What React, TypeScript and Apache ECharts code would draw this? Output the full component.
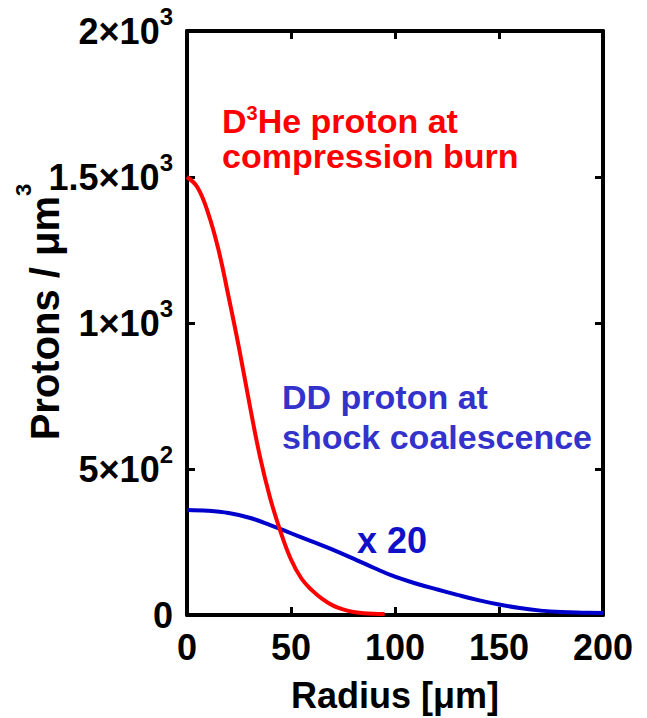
import React, { useEffect, useRef } from 'react';
import * as echarts from 'echarts';

// D3He proton at compression burn (red)
const redRadius = [0, 5, 10, 15, 20, 25, 30, 35, 40, 45, 50, 55, 60, 65, 70, 75, 80, 85, 90, 95];
const redValues = [1500, 1465, 1380, 1255, 1090, 915, 725, 545, 400, 285, 190, 125, 85, 55, 33, 19, 10, 6, 4, 3];

// DD proton at shock coalescence (x 20, blue)
const blueRadius = [0, 10, 20, 30, 40, 50, 60, 70, 80, 90, 100, 110, 120, 130, 140, 150, 160, 170, 180, 190, 200];
const blueValues = [360, 357, 349, 333, 308, 280, 252, 224, 193, 161, 131, 108, 88, 69, 51, 36, 24, 15, 10, 8, 7];

// Tick labels
const xTickValues = [0, 50, 100, 150, 200];
const yTickValues = [0, 500, 1000, 1500, 2000];
const yTickMantissa = ['0', '5×10', '1×10', '1.5×10', '2×10'];
const yTickExponent = ['', '2', '3', '3', '3'];

const FONT = '"Liberation Sans", Arial, Helvetica, sans-serif';

export default function App() {
  const ref = useRef<HTMLDivElement>(null);

  useEffect(() => {
    document.body.style.margin = '0';
    const chart = echarts.init(ref.current!, null, { renderer: 'svg' });

    const axisLine = { show: true, onZero: false, lineStyle: { color: '#000', width: 4 } };
    const axisTick = { show: true, inside: true, length: 8, lineStyle: { color: '#000', width: 3 } };

    chart.setOption({
      animation: false,
      backgroundColor: '#fff',
      grid: { left: 187, right: 44, top: 31, bottom: 103, containLabel: false, outerBoundsMode: 'none' },
      xAxis: [
        {
          type: 'value',
          position: 'bottom',
          min: 0,
          max: 200,
          interval: 50,
          axisLine,
          axisTick,
          splitLine: { show: false },
          axisLabel: {
            margin: 14,
            color: '#000',
            fontSize: 36,
            fontWeight: 'bold',
            fontFamily: FONT,
            formatter: (v: number) => (xTickValues.includes(v) ? String(v) : ''),
          },
          name: 'Radius [μm]',
          nameLocation: 'middle',
          nameGap: 62,
          nameTextStyle: { color: '#000', fontSize: 36, fontWeight: 'bold', fontFamily: FONT },
        },
        {
          type: 'value',
          position: 'top',
          min: 0,
          max: 200,
          interval: 50,
          axisLine,
          axisTick,
          splitLine: { show: false },
          axisLabel: { show: false },
        },
      ],
      yAxis: [
        {
          type: 'value',
          position: 'left',
          min: 0,
          max: 2000,
          interval: 500,
          axisLine,
          axisTick,
          splitLine: { show: false },
          axisLabel: {
            margin: 14,
            color: '#000',
            fontFamily: FONT,
            formatter: (v: number) => {
              const i = yTickValues.indexOf(v);
              if (i < 0) return '';
              const e = yTickExponent[i];
              return e ? `{m|${yTickMantissa[i]}}{e|${e}}` : `{m|${yTickMantissa[i]}}`;
            },
            rich: {
              m: { fontSize: 36, fontWeight: 'bold', fontFamily: FONT, color: '#000', lineHeight: 53 },
              e: { fontSize: 24, fontWeight: 'bold', fontFamily: FONT, color: '#000', lineHeight: 24, verticalAlign: 'top' },
            },
          },
        },
        {
          type: 'value',
          position: 'right',
          min: 0,
          max: 2000,
          interval: 500,
          axisLine,
          axisTick,
          splitLine: { show: false },
          axisLabel: { show: false },
        },
      ],
      series: [
        {
          type: 'line',
          name: 'DD proton at shock coalescence (x 20)',
          xAxisIndex: 0,
          yAxisIndex: 0,
          data: blueRadius.map((r, i) => [r, blueValues[i]]),
          smooth: 0.4,
          showSymbol: false,
          lineStyle: { color: '#0000cc', width: 4 },
          z: 3,
        },
        {
          type: 'line',
          name: 'D3He proton at compression burn',
          xAxisIndex: 0,
          yAxisIndex: 0,
          data: redRadius.map((r, i) => [r, redValues[i]]),
          smooth: 0.4,
          showSymbol: false,
          lineStyle: { color: '#ff0000', width: 4 },
          z: 4,
        },
      ],
      graphic: [
        {
          type: 'text',
          x: 45,
          y: 312,
          rotation: Math.PI / 2,
          style: {
            text: '{m|Protons / μm}{e|3}',
            align: 'center',
            verticalAlign: 'middle',
            rich: {
              m: { fontSize: 40, fontWeight: 'bold', fontFamily: FONT, fill: '#000', lineHeight: 66 },
              e: { fontSize: 22, fontWeight: 'bold', fontFamily: FONT, fill: '#000', lineHeight: 22, verticalAlign: 'top' },
            },
          },
        },
        {
          type: 'text',
          left: 222,
          top: 103,
          style: {
            text: '{a|D}{s|3}{a|He proton at}\n{a|compression burn}',
            rich: {
              a: { fontSize: 34, fontWeight: 'bold', fontFamily: FONT, fill: '#ff0000', lineHeight: 35 },
              s: { fontSize: 20, fontWeight: 'bold', fontFamily: FONT, fill: '#ff0000', lineHeight: 20, verticalAlign: 'top' },
            },
          },
        },
        {
          type: 'text',
          left: 282,
          top: 377,
          style: {
            text: 'DD proton at\nshock coalescence',
            fontSize: 34,
            fontWeight: 'bold',
            fontFamily: FONT,
            fill: '#3333cc',
            lineHeight: 40,
          },
        },
        {
          type: 'text',
          left: 357,
          top: 522,
          style: {
            text: 'x 20',
            fontSize: 36,
            fontWeight: 'bold',
            fontFamily: FONT,
            fill: '#1010c8',
          },
        },
      ],
    });

    return () => chart.dispose();
  }, []);

  return <div ref={ref} style={{ width: 647, height: 718 }} />;
}
